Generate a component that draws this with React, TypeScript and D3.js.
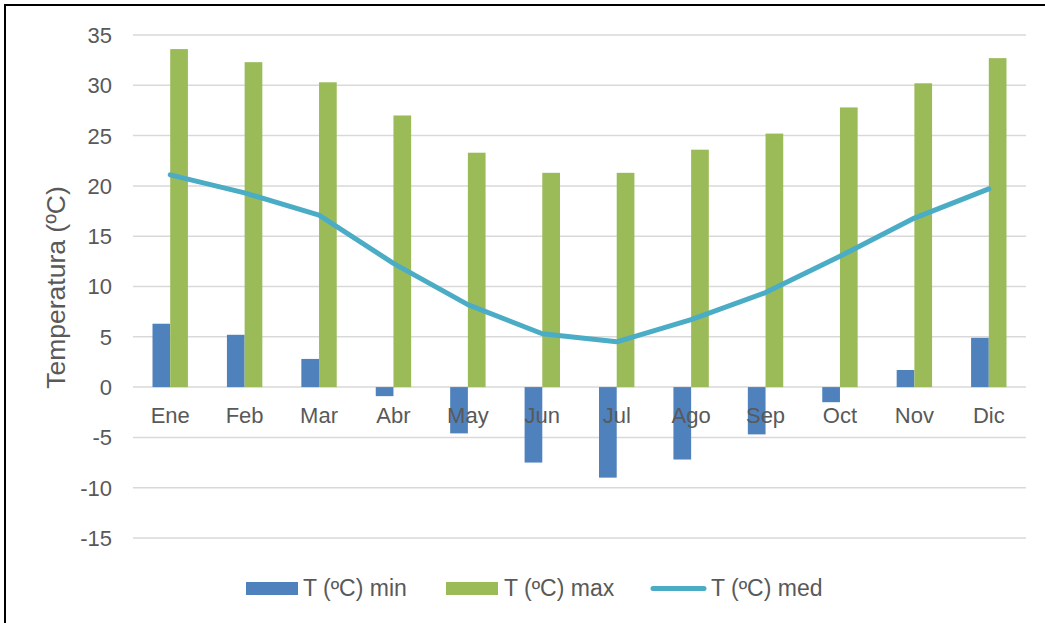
import * as d3 from 'd3';

const months = ['Ene', 'Feb', 'Mar', 'Abr', 'May', 'Jun', 'Jul', 'Ago', 'Sep', 'Oct', 'Nov', 'Dic'];
const tMin = [6.3, 5.2, 2.8, -0.9, -4.6, -7.5, -9.0, -7.2, -4.7, -1.5, 1.7, 4.9];
const tMax = [33.6, 32.3, 30.3, 27.0, 23.3, 21.3, 21.3, 23.6, 25.2, 27.8, 30.2, 32.7];
const tMed = [21.1, 19.3, 17.1, 12.3, 8.2, 5.3, 4.5, 6.7, 9.4, 13.0, 16.8, 19.7];
const yTicks = [-15, -10, -5, 0, 5, 10, 15, 20, 25, 30, 35];

const W = 1045;
const H = 623;
const font = '"Liberation Sans", Arial, sans-serif';
const textColor = '#595959';
const cMin = '#4F81BD';
const cMax = '#9BBB59';
const cMed = '#4BACC6';

export default function App() {
  const plot = { left: 133, right: 1026, top: 35, bottom: 538 };

  const x = d3.scaleBand<string>()
    .domain(months)
    .range([plot.left, plot.right]);

  const y = d3.scaleLinear()
    .domain([-15, 35])
    .range([plot.bottom, plot.top]);

  const barW = 17.7;

  const line = d3.line<number>()
    .x((_, i) => x(months[i])! + x.bandwidth() / 2)
    .y(d => y(d));

  return (
    <svg width={W} height={H} style={{ position: 'absolute', left: 0, top: 0, background: '#fff' }}>
      <rect x={5} y={5} width={W + 10} height={H + 10} fill="#fff" stroke="#000" strokeWidth={2} />

      {/* gridlines */}
      {yTicks.map(t => (
        <line key={t} x1={plot.left} x2={plot.right} y1={y(t)} y2={y(t)} stroke="#D9D9D9" strokeWidth={1.5} />
      ))}

      {/* y tick labels */}
      {yTicks.map(t => (
        <text key={'l' + t} x={112} y={y(t)} dy="0.36em" textAnchor="end"
          fontFamily={font} fontSize={22} fill={textColor}>{t}</text>
      ))}

      {/* bars */}
      {months.map((m, i) => {
        const cx = x(m)! + x.bandwidth() / 2;
        return (
          <g key={m}>
            <rect x={cx - barW} width={barW} y={Math.min(y(tMin[i]), y(0))}
              height={Math.abs(y(tMin[i]) - y(0))} fill={cMin} />
            <rect x={cx} width={barW} y={y(tMax[i])} height={y(0) - y(tMax[i])} fill={cMax} />
          </g>
        );
      })}

      {/* category labels */}
      {months.map(m => (
        <text key={'c' + m} x={x(m)! + x.bandwidth() / 2} y={423} textAnchor="middle"
          fontFamily={font} fontSize={22} fill={textColor}>{m}</text>
      ))}

      {/* mean line */}
      <path d={line(tMed)!} fill="none" stroke={cMed} strokeWidth={5} strokeLinecap="round" strokeLinejoin="round" />

      {/* y axis title */}
      <text transform={`translate(65, 287.5) rotate(-90)`} textAnchor="middle"
        fontFamily={font} fontSize={26.5} fill={textColor}>Temperatura (ºC)</text>

      {/* legend */}
      <g fontFamily={font} fontSize={23} fill={textColor}>
        <rect x={246} y={582} width={52} height={13} fill={cMin} />
        <text x={303} y={596}>T (ºC) min</text>
        <rect x={446} y={582} width={52} height={13} fill={cMax} />
        <text x={504} y={596}>T (ºC) max</text>
        <line x1={653} x2={704} y1={588.5} y2={588.5} stroke={cMed} strokeWidth={5} strokeLinecap="round" />
        <text x={711} y={596}>T (ºC) med</text>
      </g>
    </svg>
  );
}
